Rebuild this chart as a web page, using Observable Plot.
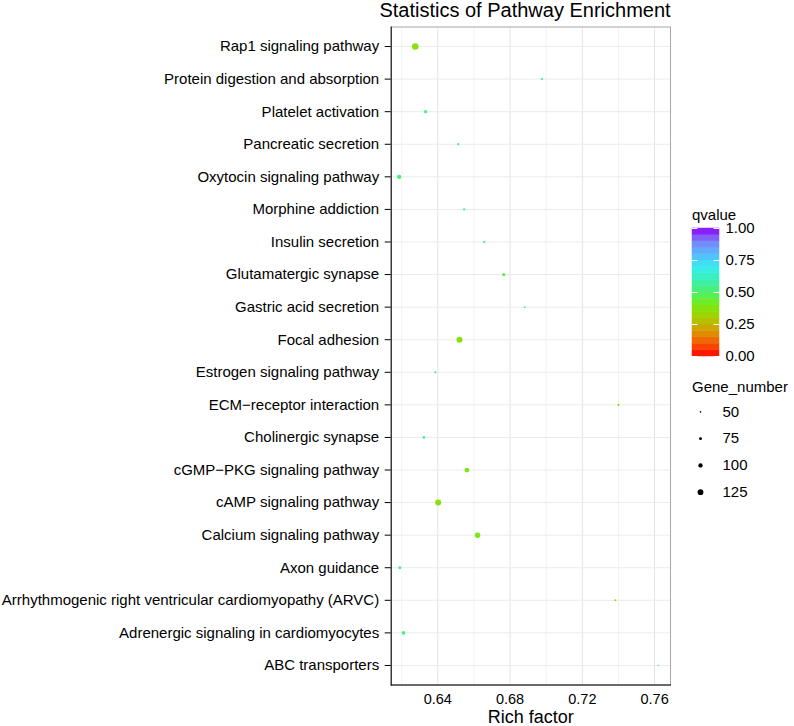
<!DOCTYPE html>
<html>
<head>
<meta charset="utf-8">
<script src="https://cdn.jsdelivr.net/npm/d3@7"></script>
<script src="https://cdn.jsdelivr.net/npm/@observablehq/plot@0.6"></script>
<style>
  html, body { margin: 0; padding: 0; background: #fff; }
  #wrap { position: relative; width: 794px; height: 726px; font-family: "Liberation Sans", Arial, sans-serif; color: #000; }
  .abs { position: absolute; white-space: nowrap; }
</style>
</head>
<body>
<div id="wrap">
  <div class="abs" id="title" style="left:325px; width:400px; top:0px; text-align:center; font-size:20px; line-height:20px;">Statistics of Pathway Enrichment</div>
  <div class="abs" style="left:692px; top:206px; font-size:15px; line-height:18px;">qvalue</div>
  <div class="abs" style="left:692px; top:378px; font-size:15px; line-height:18px;">Gene_number</div>
</div>
<script>
const pathways = [
  "Rap1 signaling pathway",
  "Protein digestion and absorption",
  "Platelet activation",
  "Pancreatic secretion",
  "Oxytocin signaling pathway",
  "Morphine addiction",
  "Insulin secretion",
  "Glutamatergic synapse",
  "Gastric acid secretion",
  "Focal adhesion",
  "Estrogen signaling pathway",
  "ECM\u2212receptor interaction",
  "Cholinergic synapse",
  "cGMP\u2212PKG signaling pathway",
  "cAMP signaling pathway",
  "Calcium signaling pathway",
  "Axon guidance",
  "Arrhythmogenic right ventricular cardiomyopathy (ARVC)",
  "Adrenergic signaling in cardiomyocytes",
  "ABC transporters"
];
const richFactor = [0.6275,0.6976,0.6332,0.6513,0.6186,0.6546,0.6657,0.6765,0.6881,0.6520,0.6387,0.7400,0.6323,0.6561,0.6402,0.6620,0.6190,0.7383,0.6210,0.7620];
const geneNumber = [140,63,80,63,100,63,63,80,57,130,63,63,70,107,130,120,73,57,87,47];
const qvalue     = [0.37,0.58,0.55,0.58,0.53,0.57,0.58,0.47,0.60,0.37,0.58,0.38,0.56,0.40,0.37,0.40,0.55,0.33,0.53,0.75];

const xMajorTicks = [0.64, 0.68, 0.72, 0.76];
const xMinorTicks = [0.62, 0.66, 0.70, 0.74];
const qTicks = [0, 0.25, 0.5, 0.75, 1];
const sizeBreaks = [50, 75, 100, 125];

const colorOpts = {
  type: "linear",
  domain: [0, 0.1, 0.2, 0.3, 0.4, 0.5, 0.6, 0.7, 0.8, 0.9, 1],
  range: ["#ff0000","#f55a00","#d99a00","#a8cc00","#7aea10","#4cf06a","#38f0b8","#38ecf0","#58b8ff","#7c80f5","#8a00ff"]
};
const rOpts = {type: "linear", domain: [40, 140], range: [0.5, 3.3]};

const data = pathways.map((p, i) => ({pathway: p, rich: richFactor[i], genes: geneNumber[i], q: qvalue[i]}));
const font = "Liberation Sans, Arial, sans-serif";
const wrap = document.getElementById("wrap");

const main = Plot.plot({
  width: 680,
  height: 726,
  marginTop: 26.5,
  marginBottom: 41.5,
  marginLeft: 390.7,
  marginRight: 10,
  style: {fontFamily: font, fontSize: "15px", background: "transparent", color: "#000", overflow: "visible"},
  x: {domain: [0.6142, 0.7688]},
  y: {type: "point", domain: pathways, padding: 0.6, round: false},
  color: colorOpts,
  r: rOpts,
  marks: [
    Plot.ruleX(xMinorTicks, {stroke: "#f2f2f2", strokeWidth: 1}),
    Plot.ruleX(xMajorTicks, {stroke: "#e3e3e3", strokeWidth: 1}),
    Plot.ruleY(pathways, {stroke: "#ebebeb", strokeWidth: 1}),
    Plot.frame({stroke: "#a6a6a6"}),
    Plot.frame({anchor: "left", stroke: "#000"}),
    Plot.frame({anchor: "bottom", stroke: "#000"}),
    Plot.axisY({tickSize: 6, tickPadding: 6, fontSize: 15, label: null, stroke: "#000"}),
    Plot.axisX({ticks: xMajorTicks, tickFormat: ".2f", tickSize: 0, tickPadding: 8.5, fontSize: 14.5, label: null}),
    Plot.text(["Rich factor"], {frameAnchor: "bottom", lineAnchor: "middle", dy: 32.5, fontSize: 18, fill: "#000"}),
    Plot.dot(data, {x: "rich", y: "pathway", r: "genes", fill: "q", stroke: null})
  ]
});
main.style.position = "absolute";
main.style.left = "0px";
main.style.top = "0px";
wrap.appendChild(main);

// colour bar legend
const qBins = d3.range(0, 1, 0.05).map(v => ({y1: v, y2: v + 0.05, mid: v + 0.025}));
const cbar = Plot.plot({
  width: 114,
  height: 170,
  marginTop: 28,
  marginBottom: 14,
  marginLeft: 12,
  marginRight: 75,
  style: {fontFamily: font, fontSize: "15px", background: "transparent", color: "#000", overflow: "visible"},
  x: {domain: [0, 1], axis: null},
  y: {domain: [0, 1]},
  color: colorOpts,
  marks: [
    Plot.rect(qBins, {x1: 0, x2: 1, y1: "y1", y2: "y2", fill: "mid", stroke: "mid", strokeWidth: 0.5}),
    Plot.ruleY(qTicks, {x1: 0, x2: 0.2, stroke: "white", strokeWidth: 1}),
    Plot.ruleY(qTicks, {x1: 0.8, x2: 1, stroke: "white", strokeWidth: 1}),
    Plot.axisY({anchor: "right", ticks: qTicks, tickFormat: ".2f", tickSize: 0, tickPadding: 6, fontSize: 15, label: null})
  ]
});
cbar.style.position = "absolute";
cbar.style.left = "680px";
cbar.style.top = "200px";
wrap.appendChild(cbar);

// size legend
const sizeData = sizeBreaks.map(v => ({v, label: String(v)}));
const sleg = Plot.plot({
  width: 114,
  height: 107,
  marginTop: 0,
  marginBottom: 0,
  marginLeft: 20,
  marginRight: 20,
  style: {fontFamily: font, fontSize: "15px", background: "transparent", color: "#000", overflow: "visible"},
  x: {domain: [0, 1], axis: null},
  y: {type: "point", domain: sizeData.map(d => d.label), padding: 0.5, axis: null, round: false},
  r: rOpts,
  marks: [
    Plot.dot(sizeData, {x: 0, y: "label", r: "v", fill: "#000", stroke: null}),
    Plot.text(sizeData, {x: 0, y: "label", text: "label", dx: 22, textAnchor: "start", fontSize: 15, fill: "#000"})
  ]
});
sleg.style.position = "absolute";
sleg.style.left = "680px";
sleg.style.top = "398px";
wrap.appendChild(sleg);
</script>
</body>
</html>
